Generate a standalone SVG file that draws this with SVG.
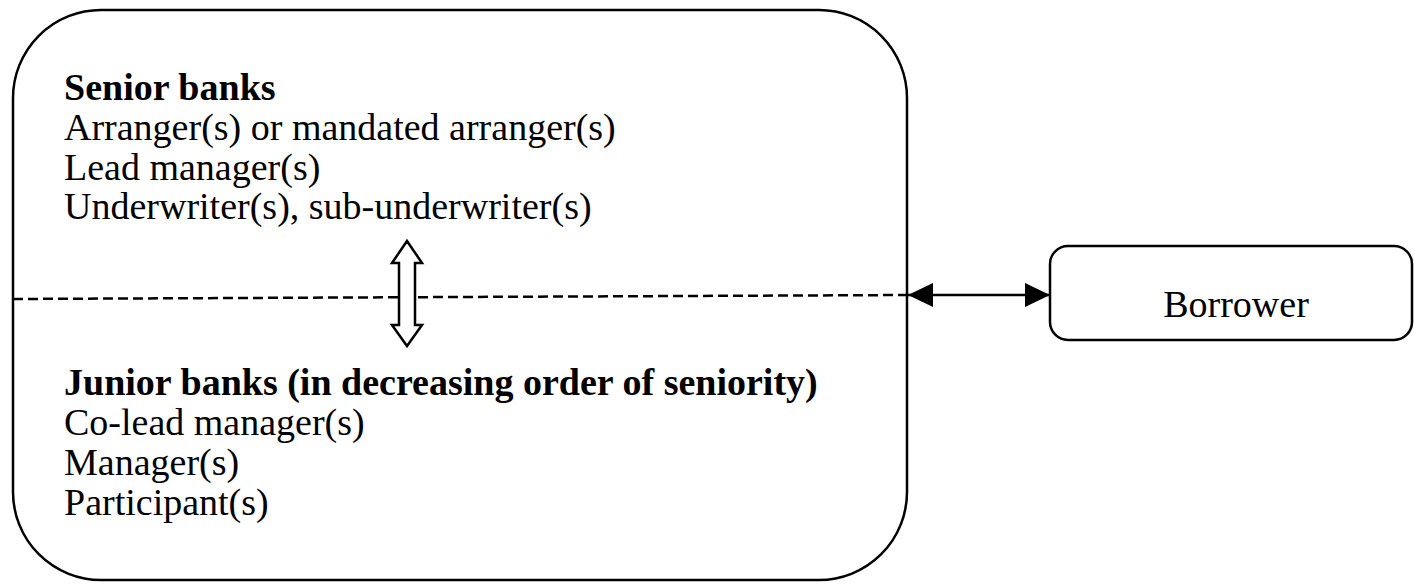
<svg xmlns="http://www.w3.org/2000/svg" width="1414" height="584" viewBox="0 0 1414 584">
<style>
  .box { fill: #fff; stroke: #000; stroke-width: 2.5; }
  .t { font-family: "Liberation Serif", "Times New Roman", serif; font-size: 38px; fill: #000; }
  .b { font-weight: bold; }
  .dash { stroke: #000; stroke-width: 2.5; stroke-dasharray: 10 5; fill: none; }
  .line { stroke: #000; stroke-width: 2.5; fill: none; }
</style>
<defs>
  <marker id="ah" viewBox="0 0 25 24" refX="25" refY="12" markerWidth="25" markerHeight="24" markerUnits="userSpaceOnUse" orient="auto-start-reverse">
    <path d="M0,0 L25,12 L0,24 Z" fill="#000"/>
  </marker>
</defs>
<g id="banks">
  <rect class="box" x="13" y="10" width="894" height="570" rx="88" ry="88"/>
  <text class="t b" x="64" y="100">Senior banks</text>
  <text class="t" x="64" y="140">Arranger(s) or mandated arranger(s)</text>
  <text class="t" x="64" y="180">Lead manager(s)</text>
  <text class="t" x="64" y="219">Underwriter(s), sub-underwriter(s)</text>
  <text class="t b" x="64" y="395">Junior banks (in decreasing order of seniority)</text>
  <text class="t" x="64" y="435">Co-lead manager(s)</text>
  <text class="t" x="64" y="475">Manager(s)</text>
  <text class="t" x="64" y="515">Participant(s)</text>
</g>
<g id="borrower">
  <rect class="box" x="1050" y="246" width="362" height="94" rx="18" ry="18"/>
  <text class="t" x="1236" y="317" text-anchor="middle">Borrower</text>
</g>
<g id="connectors">
  <line class="dash" x1="13" y1="299" x2="907" y2="295"/>
  <path d="M407,241 L422,263 L415,263 L415,325 L422,325 L407,346 L392,325 L399,325 L399,263 L392,263 Z" fill="#fff" stroke="#000" stroke-width="2.5" stroke-linejoin="miter"/>
  <line class="line" x1="908" y1="295" x2="1050" y2="295" marker-start="url(#ah)" marker-end="url(#ah)"/>
</g>
</svg>
